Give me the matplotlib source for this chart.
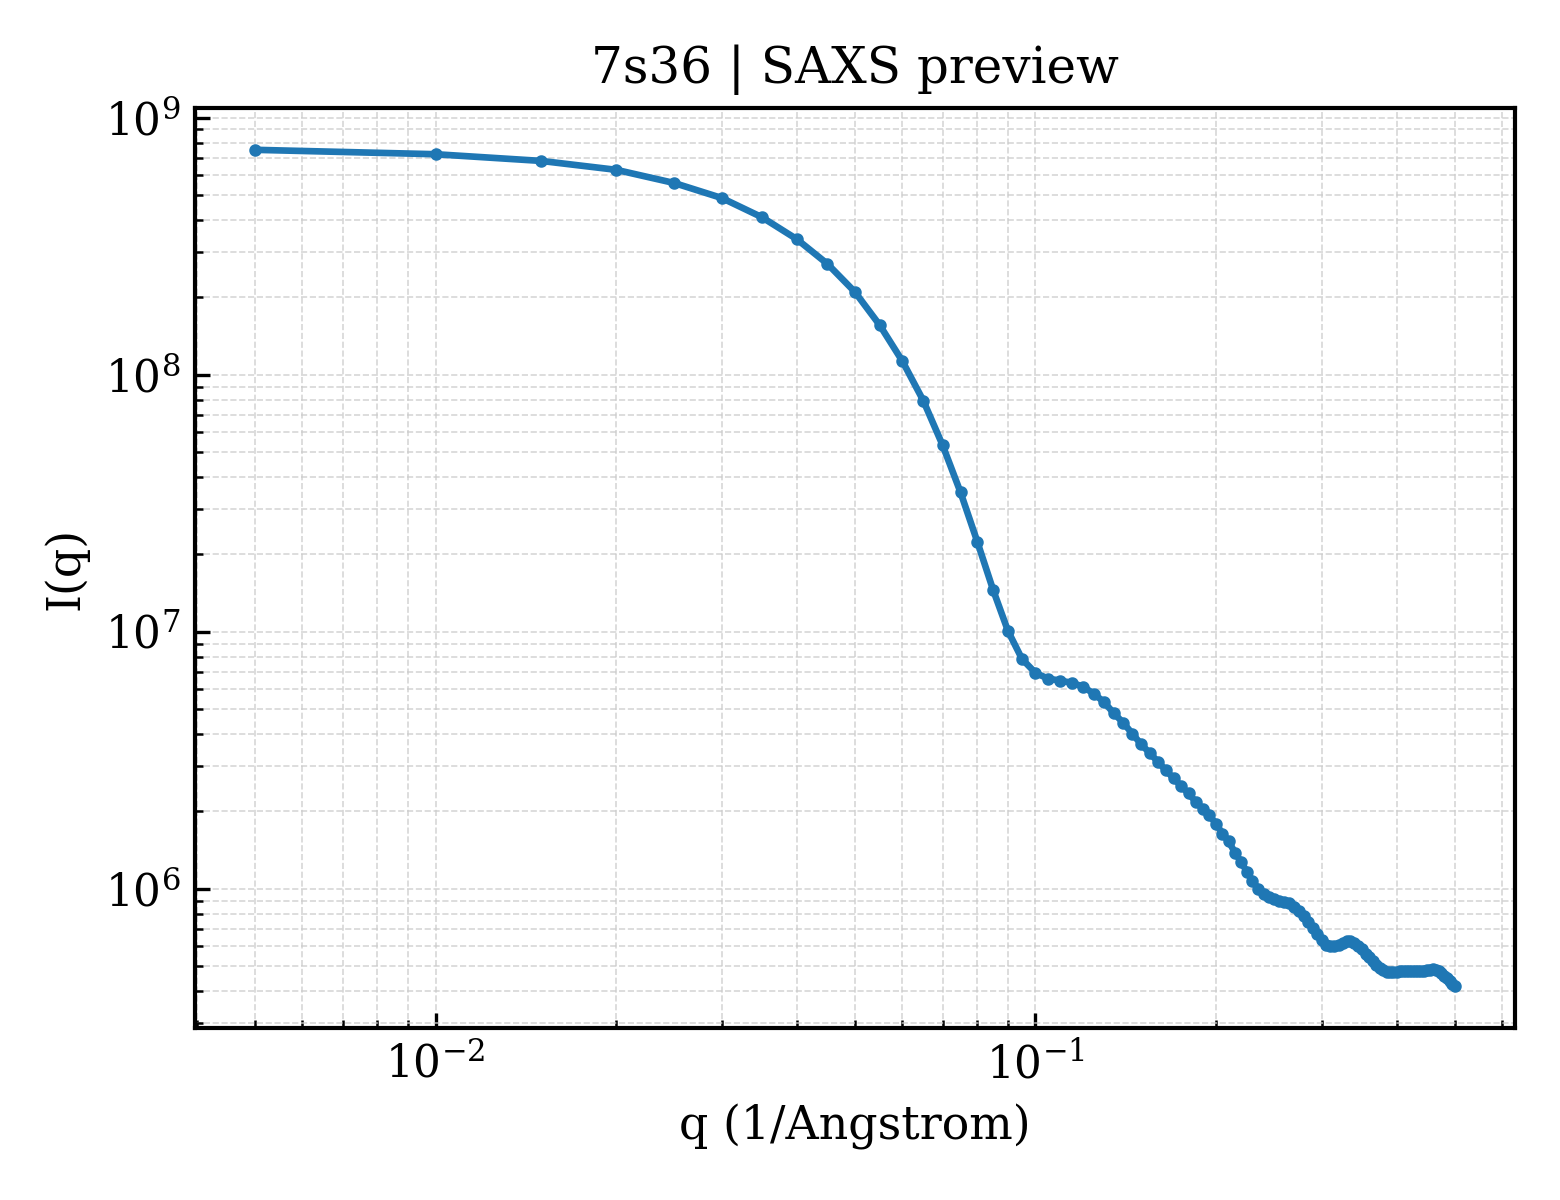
import numpy as np
import matplotlib
matplotlib.use("Agg")
import matplotlib.pyplot as plt

# q values (1/Angstrom)
q = [round(0.005 * i, 3) for i in range(1, 101)]

# I(q) values
intensity = [
    7.50e8, 7.21e8, 6.79e8, 6.27e8, 5.57e8, 4.87e8, 4.10e8, 3.37e8, 2.70e8, 2.10e8,
    1.56e8, 1.13e8, 7.94e7, 5.33e7, 3.49e7, 2.24e7, 1.455e7, 1.007e7, 7.83e6, 6.92e6,
    6.57e6, 6.46e6, 6.33e6, 6.12e6, 5.75e6, 5.34e6, 4.83e6, 4.43e6, 4.02e6, 3.65e6,
    3.38e6, 3.12e6, 2.89e6, 2.69e6, 2.51e6, 2.35e6, 2.18e6, 2.05e6, 1.93e6, 1.79e6,
    1.64e6, 1.53e6, 1.384e6, 1.277e6, 1.168e6, 1.075e6, 1.003e6, 9.57e5, 9.27e5, 9.10e5,
    8.98e5, 8.90e5, 8.77e5, 8.51e5, 8.18e5, 7.84e5, 7.44e5, 7.05e5, 6.67e5, 6.30e5,
    6.07e5, 6.00e5, 6.00e5, 6.07e5, 6.18e5, 6.26e5, 6.26e5, 6.18e5, 6.00e5, 5.81e5,
    5.60e5, 5.41e5, 5.23e5, 5.06e5, 4.93e5, 4.83e5, 4.76e5, 4.73e5, 4.74e5, 4.76e5,
    4.77e5, 4.77e5, 4.77e5, 4.77e5, 4.78e5, 4.78e5, 4.80e5, 4.80e5, 4.81e5, 4.83e5,
    4.84e5, 4.86e5, 4.84e5, 4.80e5, 4.71e5, 4.59e5, 4.48e5, 4.39e5, 4.28e5, 4.18e5,
]

title = "7s36 | SAXS preview"
xlabel = "q (1/Angstrom)"
ylabel = "I(q)"

plt.rcParams['font.family'] = ['DejaVu Serif']
plt.rcParams['mathtext.fontset'] = 'dejavuserif'

fig = plt.figure(figsize=(5.2, 4.0), dpi=300)
ax = fig.add_axes([0.125, 0.1433, 0.846, 0.7667])

ax.plot(q, intensity, color='#1f77b4', lw=1.6, marker='o', ms=2.0)
ax.set_xscale('log')
ax.set_yscale('log')

ax.set_title(title, fontsize=12)
ax.set_xlabel(xlabel, fontsize=11)
ax.set_ylabel(ylabel, fontsize=11)

ax.grid(True, which='both', linestyle='--', linewidth=0.4, color='#cccccc', alpha=0.8)
ax.tick_params(which='both', direction='in', top=False, right=False, labelsize=10.5)
for s in ax.spines.values():
    s.set_linewidth(1.0)

fig.savefig('out.png', dpi=300)
